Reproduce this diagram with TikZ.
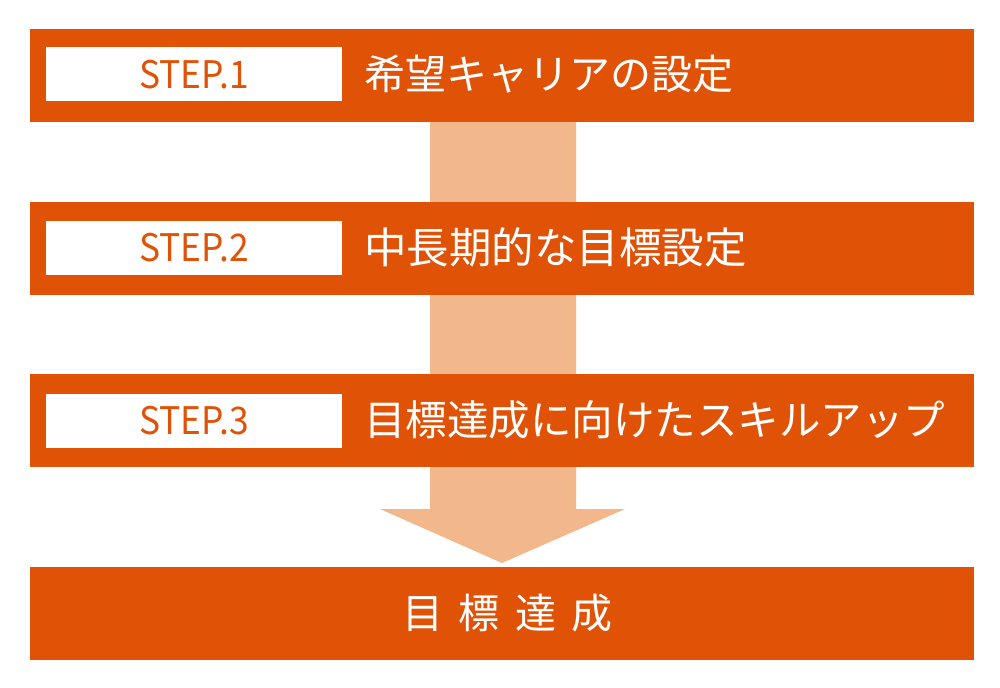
\documentclass[tikz,border=0pt]{standalone}
\usepackage{fontspec}
\setmainfont{Noto Sans CJK JP}
\newfontfamily\jpfont{Noto Sans CJK JP}
\definecolor{barorange}{RGB}{224,82,6}
\definecolor{arrowpeach}{RGB}{242,183,138}
\tikzset{
  bar/.style={fill=barorange, draw=none, minimum width=944bp, minimum height=93bp, inner sep=0pt},
  stepbox/.style={fill=white, draw=none, minimum width=296bp, minimum height=54bp, inner sep=0pt,
    text=barorange, font=\jpfont\fontsize{38bp}{38bp}\selectfont},
  bartext/.style={anchor=west, inner sep=0pt, text=white, font=\jpfont\fontsize{41bp}{41bp}\selectfont},
}
\begin{document}
\begin{tikzpicture}[x=1bp,y=-1bp]
\useasboundingbox (0,0) rectangle (1000,688);
\fill[white] (0,0) rectangle (1000,688);
% arrow behind bars
\coordinate (atop) at (502,122);
\coordinate (tip) at (502,563);
\fill[arrowpeach] (430,122) -- (576,122) -- (576,509) -- (625,509) -- (tip) -- (380,509) -- (430,509) -- cycle;
% bars
\node[bar] (b1) at (502,75.5) {};
\node[bar] (b2) at (502,248.5) {};
\node[bar] (b3) at (502,420.5) {};
\node[bar] (b4) at (502,613.5) {};
% step boxes
\node[stepbox] (s1) at (194,74.5) {\scalebox{0.93}[1]{STEP.1}};
\node[stepbox] (s2) at (194,247.5) {\scalebox{0.93}[1]{STEP.2}};
\node[stepbox] (s3) at (194,421) {\scalebox{0.93}[1]{STEP.3}};
% texts
\node[bartext] (t1) at (364,74) {希望キャリアの設定};
\node[bartext, font=\jpfont\fontsize{42.5bp}{42.5bp}\selectfont] (t2) at (364,247) {中長期的な目標設定};
\node[bartext, font=\jpfont\fontsize{41.5bp}{41.5bp}\selectfont] (t3) at (364,420) {目標達成に向けたスキルアップ};
\node[bartext, anchor=center] (t4) at (507.5,613) {目\hspace{15.5bp}標\hspace{15.5bp}達\hspace{15.5bp}成};
\end{tikzpicture}
\end{document}
